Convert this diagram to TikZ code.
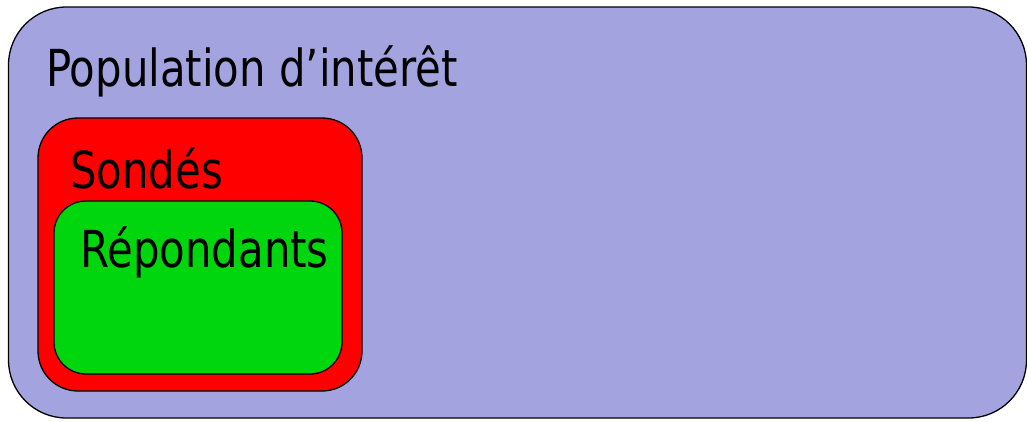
\documentclass[tikz,border=0pt]{standalone}
\usepackage{fontspec}
\setmainfont{DejaVu Sans}[FakeStretch=0.82]
\usetikzlibrary{positioning}
\tikzstyle{set}=[draw=black,line width=1.3pt,rounded corners=58pt,inner sep=0pt]
\tikzstyle{population}=[set, fill={rgb,255:red,163;green,163;blue,224}]
\tikzstyle{sondes}=[set, fill={rgb,255:red,255;green,0;blue,0}, rounded corners=40pt]
\tikzstyle{repondants}=[set, fill={rgb,255:red,0;green,214;blue,14}, rounded corners=32pt]
\tikzstyle{setname}=[anchor=base west,inner sep=0pt,font=\fontsize{51}{60}\selectfont]

\begin{document}
\begin{tikzpicture}[x=1pt,y=-1pt]
		\useasboundingbox (0,0) rectangle (1027,421);
		\node[population, minimum width=1018pt, minimum height=411pt] (P) at (517.5,212.5) {};
		\node[sondes, minimum width=324pt, minimum height=273pt] (S) at (200,254.5) {};
		\node[repondants, minimum width=288pt, minimum height=173pt] (R) at (198,287.5) {};
		\node[setname] (P-name) at (46,86) {Population d’intérêt};
		\node[setname] (S-name) at (70,188) {Sondés};
		\node[setname] (R-name) at (80,267) {Répondants};
	\end{tikzpicture}
\end{document}
